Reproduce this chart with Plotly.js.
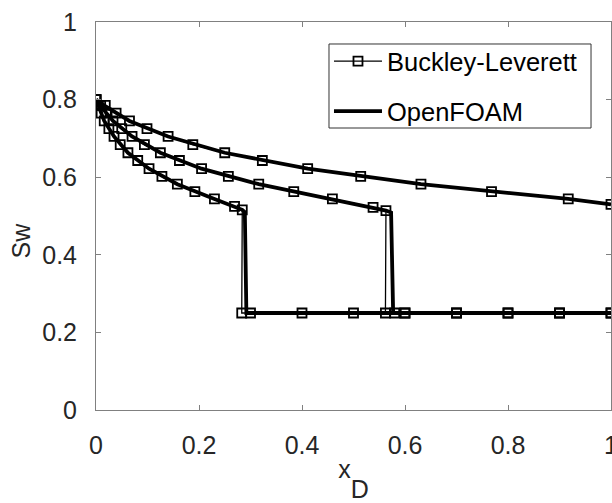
<!DOCTYPE html>
<html>
<head>
<meta charset="utf-8">
<script src="https://cdn.plot.ly/plotly-3.0.1.min.js"></script>
<style>html,body{margin:0;padding:0;background:#fff;}#chart{width:612px;height:503px;}</style>
</head>
<body>
<div id="chart"></div>
<script>
// Buckley-Leverett analytical profiles (markers), three times
var blX1 = [0, 0.0045, 0.010, 0.016, 0.025, 0.035, 0.047, 0.062, 0.081, 0.103, 0.128, 0.158, 0.192, 0.230, 0.269, 0.284, 0.283, 0.300, 0.400, 0.500, 0.600, 0.700, 0.800, 0.900, 1.000];
var blY1 = [0.800, 0.785, 0.765, 0.745, 0.725, 0.705, 0.684, 0.663, 0.643, 0.622, 0.602, 0.582, 0.563, 0.544, 0.525, 0.516, 0.250, 0.250, 0.250, 0.250, 0.250, 0.250, 0.250, 0.250, 0.250];
var blX2 = [0, 0.009, 0.020, 0.033, 0.050, 0.070, 0.094, 0.125, 0.162, 0.205, 0.257, 0.316, 0.384, 0.459, 0.538, 0.563, 0.562, 0.580, 0.600, 0.700, 0.800, 0.900, 1.000];
var blY2 = [0.800, 0.785, 0.765, 0.745, 0.725, 0.705, 0.684, 0.663, 0.643, 0.622, 0.602, 0.582, 0.563, 0.544, 0.522, 0.514, 0.250, 0.250, 0.250, 0.250, 0.250, 0.250, 0.250];
var blX3 = [0, 0.018, 0.039, 0.065, 0.099, 0.140, 0.188, 0.250, 0.323, 0.411, 0.514, 0.631, 0.768, 0.917, 1.000];
var blY3 = [0.800, 0.785, 0.765, 0.745, 0.725, 0.705, 0.684, 0.663, 0.643, 0.622, 0.602, 0.582, 0.563, 0.544, 0.530];

// OpenFOAM numerical profiles (thick lines)
var ofX1 = [0, 0.005, 0.016, 0.035, 0.062, 0.103, 0.158, 0.230, 0.269, 0.284, 0.289, 0.292, 1.000];
var ofY1 = [0.800, 0.783, 0.745, 0.705, 0.663, 0.622, 0.582, 0.544, 0.525, 0.516, 0.510, 0.250, 0.250];
var ofX2 = [0, 0.009, 0.033, 0.070, 0.125, 0.205, 0.316, 0.459, 0.538, 0.563, 0.573, 0.577, 1.000];
var ofY2 = [0.800, 0.783, 0.745, 0.705, 0.663, 0.622, 0.582, 0.544, 0.522, 0.514, 0.509, 0.250, 0.250];
var ofX3 = [0, 0.018, 0.065, 0.140, 0.250, 0.411, 0.631, 0.917, 1.000];
var ofY3 = [0.800, 0.783, 0.745, 0.705, 0.663, 0.622, 0.582, 0.544, 0.530];

var xTicks = [0, 0.2, 0.4, 0.6, 0.8, 1];
var xTickText = ['0', '0.2', '0.4', '0.6', '0.8', '1'];
var yTicks = [0, 0.2, 0.4, 0.6, 0.8, 1];
var yTickText = ['0', '0.2', '0.4', '0.6', '0.8', '1'];

var seriesNames = ['Buckley-Leverett', 'OpenFOAM'];

function ofTrace(x, y, show) {
  return {x: x, y: y, type: 'scatter', mode: 'lines', name: seriesNames[1],
    legendgroup: 'of', showlegend: show, legendrank: 2,
    line: {color: '#000000', width: 3.8}, hoverinfo: 'skip'};
}
function blTrace(x, y, show) {
  return {x: x, y: y, type: 'scatter', mode: 'lines+markers', name: seriesNames[0],
    legendgroup: 'bl', showlegend: show, legendrank: 1,
    line: {color: '#000000', width: 1.3},
    marker: {symbol: 'square-open', size: 9, color: '#000000', line: {width: 1.8, color: '#000000'}},
    hoverinfo: 'skip'};
}

var data = [
  ofTrace(ofX1, ofY1, false), ofTrace(ofX2, ofY2, false), ofTrace(ofX3, ofY3, true),
  blTrace(blX1, blY1, false), blTrace(blX2, blY2, false), blTrace(blX3, blY3, true)
];

var fontFam = '"Liberation Sans", Arial, Helvetica, sans-serif';
var layout = {
  width: 612, height: 503,
  margin: {l: 96, r: 1, t: 22, b: 93, pad: 0},
  paper_bgcolor: '#ffffff', plot_bgcolor: '#ffffff',
  font: {family: fontFam, size: 25, color: '#262626'},
  showlegend: true,
  legend: {
    x: 0.4524, y: 0.9588, xanchor: 'left', yanchor: 'top',
    bgcolor: 'rgba(0,0,0,0)', borderwidth: 0,
    traceorder: 'grouped', tracegroupgap: 14, itemwidth: 48,
    font: {family: fontFam, size: 25.5, color: '#000000'}
  },
  shapes: [{
    type: 'rect', xref: 'paper', yref: 'paper', layer: 'above',
    x0: 0.4524, x1: 0.9612, y0: 0.7268, y1: 0.9433,
    line: {color: '#333333', width: 1}, fillcolor: '#ffffff'
  }],
  xaxis: {
    range: [0, 1], tickvals: xTicks, ticktext: xTickText,
    ticks: 'inside', ticklen: 5, tickwidth: 1, tickcolor: '#808080',
    showline: true, linecolor: '#808080', linewidth: 1, mirror: 'ticks',
    showgrid: false, zeroline: false, automargin: false,
    ticklabelstandoff: 13, ticklabeloverflow: 'allow',
    title: {text: 'x<span style="baseline-shift:-20px">D</span>', standoff: 8, font: {size: 25, color: '#262626'}}
  },
  yaxis: {
    range: [0, 1], tickvals: yTicks, ticktext: yTickText,
    ticks: 'inside', ticklen: 5, tickwidth: 1, tickcolor: '#808080',
    showline: true, linecolor: '#808080', linewidth: 1, mirror: 'ticks',
    showgrid: false, zeroline: false, automargin: false,
    ticklabelstandoff: 13, ticklabeloverflow: 'allow',
    title: {text: '', font: {size: 25}}
  },
  annotations: [{
    text: 'Sw', xref: 'paper', yref: 'paper', x: -0.145, y: 0.438,
    xanchor: 'center', yanchor: 'middle', textangle: -90, showarrow: false,
    font: {family: fontFam, size: 25, color: '#262626'}
  }]
};

Plotly.newPlot('chart', data, layout, {staticPlot: true, displayModeBar: false});
</script>
</body>
</html>
